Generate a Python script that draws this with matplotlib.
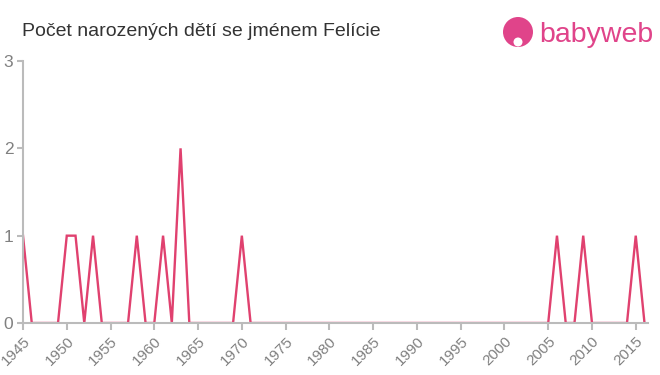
import numpy as np
import matplotlib.pyplot as plt
from matplotlib.patches import Ellipse

plt.rcParams['font.family'] = ['Liberation Sans', 'DejaVu Sans']

# Births per year
years = list(range(1945, 2017))
ones = [1945, 1950, 1951, 1953, 1958, 1961, 1970, 2006, 2009, 2015]
twos = [1963]
counts = [2 if y in twos else (1 if y in ones else 0) for y in years]

x_ticks = list(range(1945, 2016, 5))
y_ticks = [0, 1, 2, 3]

line_color = '#e0416f'
gray = '#bbbbbb'
text_gray = '#808080'

fig = plt.figure(figsize=(6.6, 3.75), dpi=100)
ax = fig.add_axes([23 / 660, 52 / 375, 625 / 660, 262 / 375])

ax.plot(years, counts, color=line_color, linewidth=1.7, solid_joinstyle='miter')

ax.set_xlim(1945, 2016.4)
ax.set_ylim(0, 3)
ax.set_xticks(x_ticks)
ax.set_xticklabels([str(t) for t in x_ticks], rotation=45, ha='right',
                   rotation_mode='anchor', fontsize=11, color=text_gray)
ax.set_yticks(y_ticks)
ax.set_yticklabels([str(t) for t in y_ticks], fontsize=12.5, color=text_gray)
ax.tick_params(axis='x', length=5, width=1.5, color=gray, pad=3)
ax.tick_params(axis='y', length=4, width=1.5, color=gray, pad=3)

for side in ['top', 'right']:
    ax.spines[side].set_visible(False)
for side in ['left', 'bottom']:
    ax.spines[side].set_color(gray)
    ax.spines[side].set_linewidth(1.5)

fig.text(22 / 660, 1 - 32 / 375, 'Počet narozených dětí se jménem Felície',
         fontsize=14, color='#333333', va='center', ha='left')

# babyweb logo
logo_color = '#e0448a'
fig.patches.append(Ellipse((518 / 660, 1 - 32 / 375), 30 / 660, 30 / 375,
                           transform=fig.transFigure,
                           facecolor=logo_color, edgecolor='none'))
fig.patches.append(Ellipse((518 / 660, 1 - 42 / 375), 9 / 660, 9 / 375,
                           transform=fig.transFigure,
                           facecolor='white', edgecolor='none'))
fig.text(539 / 660, 1 - 35 / 375, 'babyweb', fontsize=20.5, color=logo_color,
         va='center', ha='left')

plt.savefig('out.png')
